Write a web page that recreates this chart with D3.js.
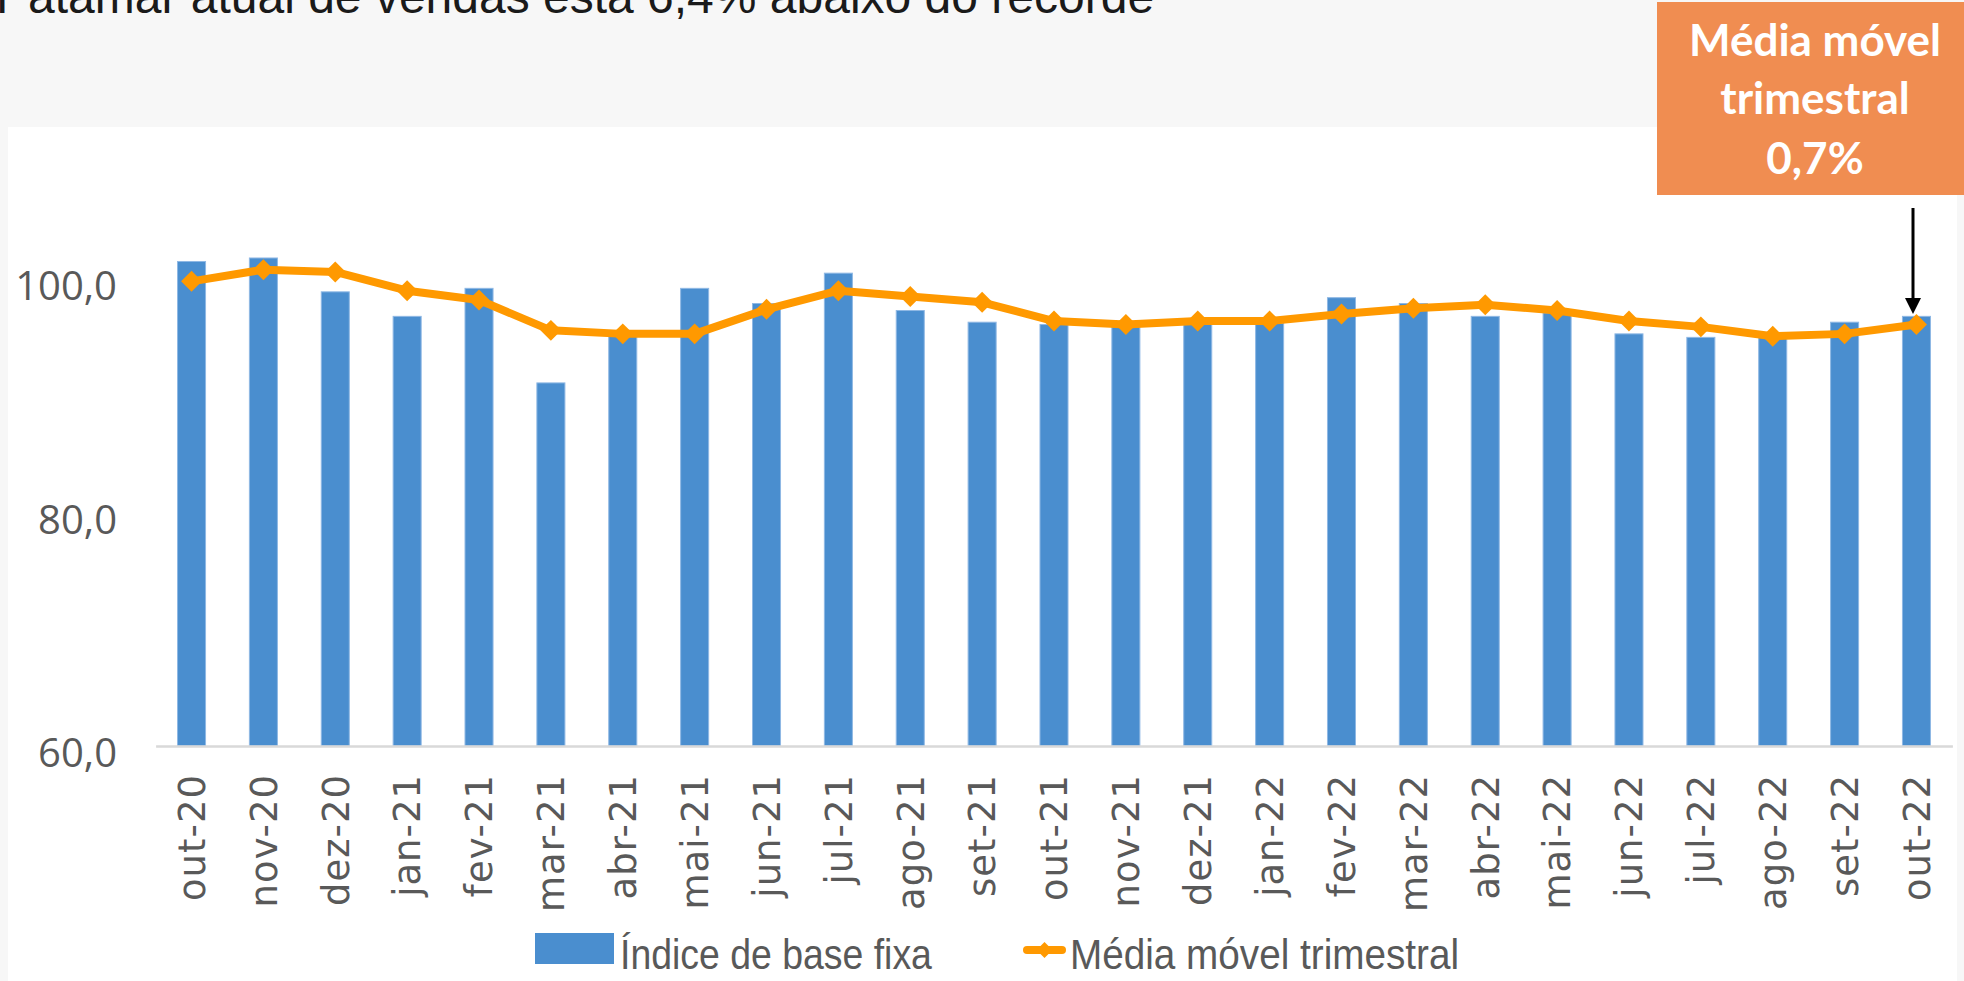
<!DOCTYPE html>
<html>
<head>
<meta charset="utf-8">
<script src="https://cdn.jsdelivr.net/npm/d3@7"></script>
<style>
  html, body { margin: 0; padding: 0; background: #F7F7F7; }
  svg { display: block; }
</style>
</head>
<body>
<svg id="chart" width="1964" height="981"></svg>
<script>
// ---- Data ----
const categories = ["out-20","nov-20","dez-20","jan-21","fev-21","mar-21","abr-21","mai-21","jun-21","jul-21","ago-21","set-21","out-21","nov-21","dez-21","jan-22","fev-22","mar-22","abr-22","mai-22","jun-22","jul-22","ago-22","set-22","out-22"];
const indiceBaseFixa = [101.5, 101.8, 98.9, 96.8, 99.2, 91.1, 95.2, 99.2, 97.9, 100.5, 97.3, 96.3, 96.1, 95.9, 96.2, 96.2, 98.4, 97.9, 96.8, 97.1, 95.3, 95.0, 95.0, 96.3, 96.8];
const mediaMovel = [99.8, 100.8, 100.6, 99.0, 98.2, 95.6, 95.3, 95.3, 97.4, 99.0, 98.5, 98.0, 96.4, 96.1, 96.4, 96.4, 97.0, 97.5, 97.8, 97.3, 96.4, 95.9, 95.1, 95.3, 96.1];
const yTicks = [60, 80, 100];
const seriesNames = ["Índice de base fixa", "Média móvel trimestral"];
const titleText = "Patamar atual de vendas está 6,4% abaixo do recorde";
const calloutLines = ["Média móvel", "trimestral", "0,7%"];

// ---- Setup ----
const svg = d3.select("#chart");
const W = 1964, H = 981;
const locale = d3.formatLocale({decimal: ",", thousands: ".", grouping: [3], currency: ["R$", ""]});
const fmt = locale.format(".1f");

const barColor = "#4A8ECF";
const lineColor = "#FF9900";
const textGray = "#595959";

// page background
svg.append("rect").attr("x", 0).attr("y", 0).attr("width", W).attr("height", H).attr("fill", "#F7F7F7");
// white chart card
svg.append("rect").attr("x", 8).attr("y", 127).attr("width", 1949).attr("height", H - 127).attr("fill", "#FFFFFF");

// title (cut by top edge, as in the reference)
svg.append("text")
  .attr("x", -4).attr("y", 13)
  .attr("font-family", "'Liberation Sans', Arial, sans-serif")
  .attr("font-size", 48)
  .attr("fill", "#1A1A1A")
  .text(titleText);

// scales
const x = d3.scaleBand().domain(categories).range([155.6, 1952.4]).paddingInner(0.61).paddingOuter(0.305);
const y = d3.scaleLinear().domain([60, 120]).range([746, 45.5]);

// bars
svg.append("g").selectAll("rect")
  .data(indiceBaseFixa)
  .join("rect")
  .attr("x", (d, i) => x(categories[i]))
  .attr("y", d => y(d))
  .attr("width", x.bandwidth())
  .attr("height", d => y(60) - y(d))
  .attr("fill", barColor)
  .attr("stroke", "#8FB8E4")
  .attr("stroke-width", 1);

// x axis line
const xAxis = d3.axisBottom(x).tickSize(0).tickFormat("");
const gx = svg.append("g").attr("transform", `translate(0,${y(60)})`).call(xAxis);
gx.select(".domain").attr("stroke", "#D9D9D9").attr("stroke-width", 2.5);

// x labels rotated
svg.append("g").selectAll("text")
  .data(categories)
  .join("text")
  .attr("transform", d => `translate(${x(d) + x.bandwidth() / 2},774) rotate(-90)`)
  .attr("text-anchor", "end")
  .attr("dy", "0.36em")
  .attr("font-family", "'DejaVu Sans', Verdana, sans-serif")
  .attr("font-size", 37)
  .attr("letter-spacing", 1)
  .attr("fill", textGray)
  .text(d => d);

// y axis labels
const yAxis = d3.axisLeft(y).tickValues(yTicks).tickSize(0).tickFormat(fmt);
const gy = svg.append("g").attr("transform", "translate(117,0)").call(yAxis);
gy.select(".domain").remove();
gy.selectAll("text")
  .attr("x", 0)
  .attr("dy", "0.52em")
  .attr("font-family", "'Open Sans', sans-serif")
  .attr("font-size", 40)
  .attr("fill", textGray);

// moving average line
const line = d3.line().x((d, i) => x(categories[i]) + x.bandwidth() / 2).y(d => y(d));
svg.append("path")
  .datum(mediaMovel)
  .attr("d", line)
  .attr("fill", "none")
  .attr("stroke", lineColor)
  .attr("stroke-width", 8)
  .attr("stroke-linejoin", "round");

const diamond = d3.symbol().type(d3.symbolSquare).size(220);
svg.append("g").selectAll("path")
  .data(mediaMovel)
  .join("path")
  .attr("d", diamond)
  .attr("transform", (d, i) => `translate(${x(categories[i]) + x.bandwidth() / 2},${y(d)}) rotate(45)`)
  .attr("fill", lineColor);

// legend
const lg = svg.append("g");
lg.append("rect").attr("x", 535).attr("y", 933).attr("width", 79).attr("height", 31).attr("fill", barColor);
lg.append("text")
  .attr("transform", "translate(620,954) scale(0.87,1)")
  .attr("dy", "0.35em")
  .attr("font-family", "'Liberation Sans', sans-serif")
  .attr("font-size", 43).attr("fill", textGray).text(seriesNames[0]);
lg.append("line").attr("x1", 1027).attr("x2", 1062).attr("y1", 950).attr("y2", 950)
  .attr("stroke", lineColor).attr("stroke-width", 8).attr("stroke-linecap", "round");
lg.append("path").attr("d", d3.symbol().type(d3.symbolSquare).size(130))
  .attr("transform", "translate(1044.5,950) rotate(45)").attr("fill", lineColor);
lg.append("text")
  .attr("transform", "translate(1070,954) scale(0.9,1)")
  .attr("dy", "0.35em")
  .attr("font-family", "'Liberation Sans', sans-serif")
  .attr("font-size", 43).attr("fill", textGray).text(seriesNames[1]);

// callout box
const cx = 1815;
svg.append("rect").attr("x", 1657).attr("y", 2).attr("width", 310).attr("height", 193).attr("fill", "#F08D51");
const baselines = [56, 114, 174];
svg.append("g").selectAll("text")
  .data(calloutLines)
  .join("text")
  .attr("x", cx)
  .attr("y", (d, i) => baselines[i])
  .attr("text-anchor", "middle")
  .attr("font-family", "Lato, 'Open Sans', sans-serif")
  .attr("font-weight", "bold")
  .attr("font-size", 44)
  .attr("fill", "#FFFFFF")
  .text(d => d);

// arrow
const ax = 1913;
svg.append("line").attr("x1", ax).attr("x2", ax).attr("y1", 208).attr("y2", 300)
  .attr("stroke", "#000").attr("stroke-width", 3);
svg.append("path").attr("d", `M${ax - 8},298 L${ax + 8},298 L${ax},314 Z`).attr("fill", "#000");
</script>
</body>
</html>
